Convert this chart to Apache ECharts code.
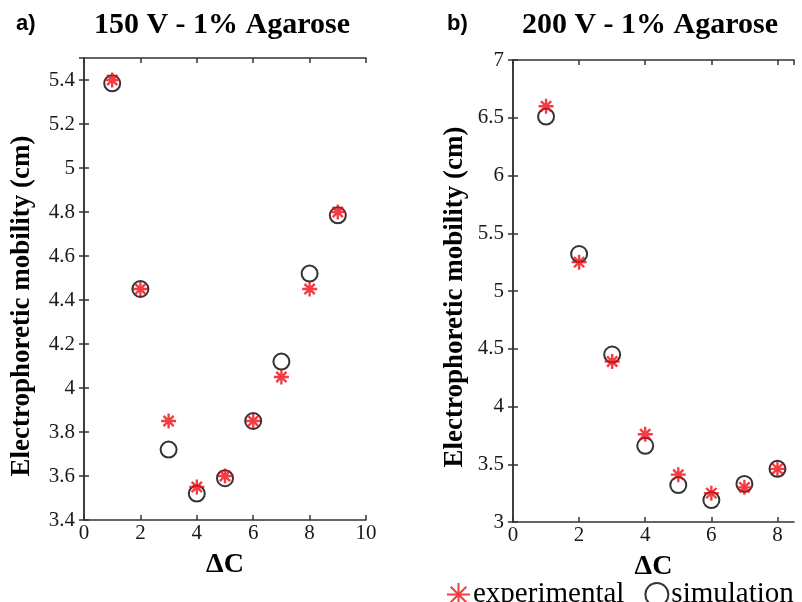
<!DOCTYPE html>
<html>
<head>
<meta charset="utf-8">
<script src="https://cdn.jsdelivr.net/npm/echarts@6/dist/echarts.min.js"></script>
<style>
  html, body { margin: 0; padding: 0; background: #fff; }
  #chart { width: 802px; height: 602px; }
</style>
</head>
<body>
<div id="chart"></div>
<script>
// 150 V - 1% agarose
const dc150 = [1, 2, 3, 4, 5, 6, 7, 8, 9];
const exp150 = [5.40, 4.45, 3.85, 3.55, 3.60, 3.85, 4.05, 4.45, 4.80];
const sim150 = [5.385, 4.45, 3.72, 3.52, 3.59, 3.85, 4.12, 4.52, 4.785];
// 200 V - 1% agarose
const dc200 = [1, 2, 3, 4, 5, 6, 7, 8];
const exp200 = [6.60, 5.25, 4.39, 3.76, 3.41, 3.25, 3.30, 3.46];
const sim200 = [6.51, 5.32, 4.45, 3.66, 3.32, 3.19, 3.33, 3.46];

const panelTitles = ["150 V - 1% Agarose", "200 V - 1% Agarose"];
const panelLetters = ["a)", "b)"];
const yName = "Electrophoretic mobility (cm)";
const xName = "ΔC";

const serif = "Liberation Serif, Times New Roman, serif";
const sans = "Liberation Sans, Arial, sans-serif";
const starPath = "path://M0,5 L10,5 M5,0 L5,10 M1.6,1.6 L8.4,8.4 M8.4,1.6 L1.6,8.4";

const chartInstance = echarts.init(document.getElementById("chart"));

const lineStyle = { color: "#333", width: 1.5 };

function bottomX(grid, max, name) {
  return {
    type: "value", gridIndex: grid, position: "bottom",
    min: 0, max: max, interval: 2,
    name: name, nameLocation: "middle", nameGap: 31,
    nameTextStyle: { fontFamily: serif, fontWeight: "bold", fontSize: 28, color: "#000" },
    axisLine: { lineStyle: lineStyle },
    axisTick: { inside: true, length: 5, lineStyle: lineStyle },
    axisLabel: { fontFamily: serif, fontSize: 21, color: "#1a1a1a", margin: 3, showMaxLabel: max % 2 === 0 },
    splitLine: { show: false },
  };
}
function topX(grid, max) {
  return {
    type: "value", gridIndex: grid, position: "top",
    min: 0, max: max, interval: 2,
    axisLine: { lineStyle: lineStyle },
    axisTick: { inside: true, length: 5, lineStyle: lineStyle },
    axisLabel: { show: false },
    splitLine: { show: false },
  };
}
function leftY(grid, min, max, step, gap, shift) {
  return {
    type: "value", gridIndex: grid, position: "left",
    min: min, max: max, interval: step,
    name: yName, nameLocation: "middle", nameGap: gap,
    nameTextStyle: { fontFamily: serif, fontWeight: "bold", fontSize: 27, color: "#000", padding: [0, shift, 0, 0] },
    axisLine: { show: true, lineStyle: lineStyle },
    axisTick: { show: true, inside: true, length: 5, lineStyle: lineStyle },
    axisLabel: { fontFamily: serif, fontSize: 21, color: "#1a1a1a", margin: 9, showMaxLabel: Math.abs(max / step - Math.round(max / step)) < 1e-6 },
    splitLine: { show: false },
  };
}
function rightY(grid, min, max, step) {
  return {
    type: "value", gridIndex: grid, position: "right",
    min: min, max: max, interval: step,
    axisLine: { show: true, lineStyle: lineStyle },
    axisTick: { show: true, inside: true, length: 5, lineStyle: lineStyle },
    axisLabel: { show: false },
    splitLine: { show: false },
  };
}

function pairs(xs, ys) {
  return xs.map((x, i) => [x, ys[i]]);
}

const simStyle = { color: "#000", borderWidth: 2 };
const expStyle = { color: "#ee0c14", borderColor: "#ee0c14", borderWidth: 2.4 };

var option = {
  backgroundColor: "#fff",
  animation: false,
  title: [
    { text: panelLetters[0], left: 11, top: 8, textStyle: { fontFamily: sans, fontWeight: "bold", fontSize: 22, color: "#000" } },
    { text: panelTitles[0], left: 217, top: 5, textAlign: "center", textStyle: { fontFamily: serif, fontWeight: "bold", fontSize: 30, color: "#000" } },
    { text: panelLetters[1], left: 442, top: 8, textStyle: { fontFamily: sans, fontWeight: "bold", fontSize: 22, color: "#000" } },
    { text: panelTitles[1], left: 645, top: 5, textAlign: "center", textStyle: { fontFamily: serif, fontWeight: "bold", fontSize: 30, color: "#000" } },
  ],
  legend: {
    left: 441, top: 575,
    itemWidth: 23, itemHeight: 23, itemGap: 20,
    data: [
      { name: "experimental", icon: starPath },
      { name: "simulation", icon: "emptyCircle" },
    ],
    textStyle: { fontFamily: serif, fontSize: 29, color: "#000", padding: [0, 0, 0, -2] },
  },
  grid: [
    { left: 84, top: 58, width: 282, height: 462 },
    { left: 513, top: 60, width: 281, height: 462 },
  ],
  xAxis: [bottomX(0, 10, xName), topX(0, 10), bottomX(1, 8.5, xName), topX(1, 8.5)],
  yAxis: [leftY(0, 3.4, 5.5, 0.2, 48, 34), rightY(0, 3.4, 5.5, 0.2), leftY(1, 3, 7, 0.5, 44, 12), rightY(1, 3, 7, 0.5)],
  series: [
    { name: "simulation", type: "scatter", xAxisIndex: 0, yAxisIndex: 0, symbol: "emptyCircle", symbolSize: 16, itemStyle: simStyle, data: pairs(dc150, sim150) },
    { name: "experimental", type: "scatter", xAxisIndex: 0, yAxisIndex: 0, symbol: starPath, symbolSize: 15, itemStyle: expStyle, data: pairs(dc150, exp150) },
    { name: "simulation", type: "scatter", xAxisIndex: 2, yAxisIndex: 2, symbol: "emptyCircle", symbolSize: 16, itemStyle: simStyle, data: pairs(dc200, sim200) },
    { name: "experimental", type: "scatter", xAxisIndex: 2, yAxisIndex: 2, symbol: starPath, symbolSize: 15, itemStyle: expStyle, data: pairs(dc200, exp200) },
  ],
};
chartInstance.setOption(option);
</script>
</body>
</html>
